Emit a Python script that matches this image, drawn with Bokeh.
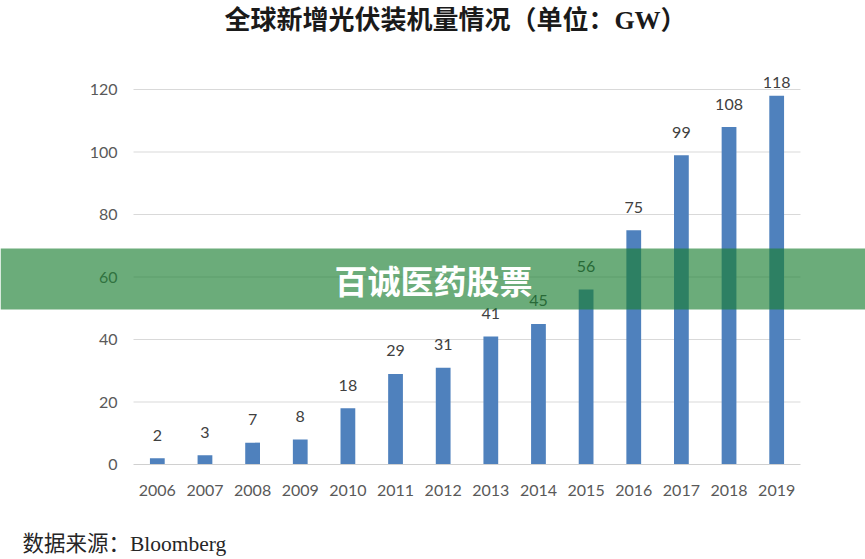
from bokeh.plotting import figure
from bokeh.models import Range1d, FixedTicker, Label, BoxAnnotation, ColumnDataSource
from bokeh.core.properties import value
from bokeh.embed import file_html
from bokeh.resources import INLINE

# Global new PV installations, GW
years = ["2006", "2007", "2008", "2009", "2010", "2011", "2012",
         "2013", "2014", "2015", "2016", "2017", "2018", "2019"]
capacity_gw = [2, 3, 7, 8, 18, 29, 31, 41, 45, 56, 75, 99, 108, 118]
y_ticks = [0, 20, 40, 60, 80, 100, 120]

title_text = "全球新增光伏装机量情况（单位：GW）"
source_text = "数据来源：Bloomberg"
banner_text = "百诚医药股票"

W, H = 865, 559
# chart area inside the page (pixels): left, right, zero line, px per GW
PLOT_L, PLOT_R, ZERO_Y, PX_PER_GW = 133, 800, 464, 3.125
n = len(years)
px_per_cat = (PLOT_R - PLOT_L) / n
x_lo = -0.5 - PLOT_L / px_per_cat
x_hi = n - 0.5 + (W - PLOT_R) / px_per_cat
y_lo = -(H - ZERO_Y) / PX_PER_GW
y_hi = ZERO_Y / PX_PER_GW

# value labels sit a fixed gap above each bar, kept inside the chart area
label_gap = 23 / PX_PER_GW
label_cap = 122.2
label_y = [min(v + label_gap, label_cap) for v in capacity_gw]

x_pos = list(range(n))
src = ColumnDataSource(dict(x=x_pos, top=capacity_gw, ly=label_y,
                            label=[str(v) for v in capacity_gw]))
grid_src = ColumnDataSource(dict(y=y_ticks[1:],
                                 x0=[-0.5] * (len(y_ticks) - 1),
                                 x1=[n - 0.5] * (len(y_ticks) - 1)))

p = figure(width=W, height=H, output_backend="svg", toolbar_location=None,
           x_range=Range1d(x_lo, x_hi), y_range=Range1d(y_lo, y_hi),
           min_border=0)
p.outline_line_color = None
p.background_fill_color = "white"
p.border_fill_color = "white"
p.xgrid.visible = False
p.ygrid.visible = False

# horizontal gridlines
p.segment(x0="x0", x1="x1", y0="y", y1="y", source=grid_src,
          line_color="#d9d9d9", line_width=1)

p.vbar(x="x", top="top", width=0.31, bottom=0, source=src,
       fill_color="#4f81bd", line_color=None)

p.text(x="x", y="ly", text="label", source=src,
       text_align="center", text_baseline="middle",
       text_font=value("Lato"), text_font_size="16px", text_color="#404040")

# axes pinned to the chart area
p.xaxis.fixed_location = 0
p.yaxis.fixed_location = -0.5
p.xaxis.ticker = FixedTicker(ticks=x_pos)
p.xaxis.major_label_overrides = {i: y for i, y in enumerate(years)}
p.yaxis.ticker = FixedTicker(ticks=y_ticks)
for ax in (p.xaxis[0], p.yaxis[0]):
    ax.major_tick_line_color = None
    ax.minor_tick_line_color = None
    ax.major_label_text_font = "Lato"
    ax.major_label_text_font_size = "16px"
    ax.major_label_text_color = "#595959"
p.xaxis.axis_line_color = "#d0d0d0"
p.xaxis.bounds = (-0.5, n - 0.5)
p.yaxis.axis_line_color = None
p.xaxis.major_label_standoff = 14
p.yaxis.major_label_standoff = 10

# title and source note
p.add_layout(Label(x=455, y=20, x_units="canvas", y_units="canvas", text=title_text,
                   text_align="center", text_baseline="middle",
                   text_font="Liberation Serif, Noto Sans CJK SC", text_font_style="bold",
                   text_font_size="26px", text_color="#1a1a1a"))
p.add_layout(Label(x=22, y=543, x_units="canvas", y_units="canvas", text=source_text,
                   text_align="left", text_baseline="middle",
                   text_font="Liberation Serif, Noto Sans CJK SC",
                   text_font_size="21.5px", text_color="#262626"))

# translucent green banner across the page
p.add_layout(BoxAnnotation(left=0, right=W, top=248, bottom=309,
                           left_units="canvas", right_units="canvas",
                           top_units="canvas", bottom_units="canvas",
                           fill_color="#1c8033", fill_alpha=0.65, line_color=None,
                           level="overlay"))
p.add_layout(Label(x=433, y=279, x_units="canvas", y_units="canvas", text=banner_text,
                   text_align="center", text_baseline="middle",
                   text_font="Noto Sans CJK SC", text_font_style="bold",
                   text_font_size="33px", text_color="white", level="overlay"))

open("out.html", "w").write(file_html(p, INLINE))
